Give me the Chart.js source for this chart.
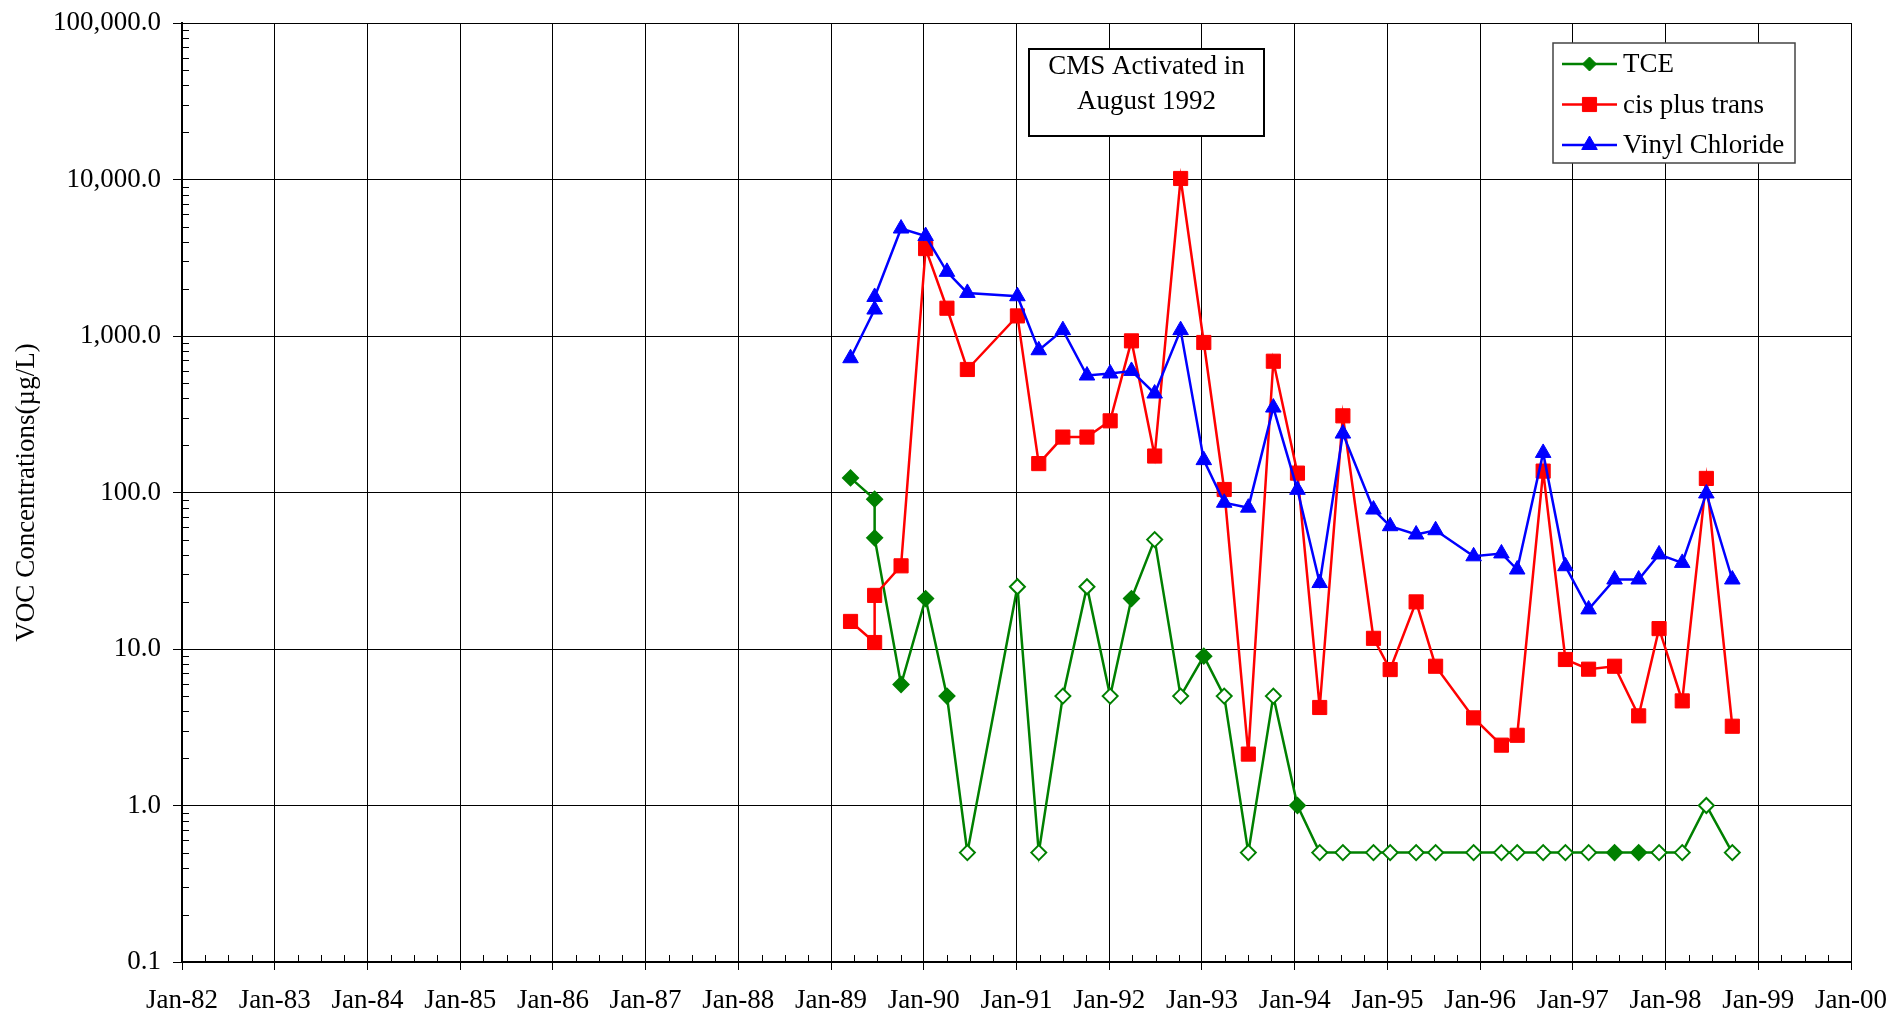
<!DOCTYPE html>
<html lang="en">
<head>
  <meta charset="UTF-8">
  <title>VOC Concentrations</title>
  <script src="https://cdn.jsdelivr.net/npm/chart.js"></script>
  <style>
    html, body { margin: 0; padding: 0; background: #fff; }
    .chart-wrap { position: relative; width: 1891px; height: 1016px; }
  </style>
</head>
<body>
  <div class="chart-wrap"><canvas id="vocChart"></canvas></div>
  <script>
    // sampling dates in decimal years (two samples taken in June 1989)
    const sampleDates = [1989.21, 1989.47, 1989.47, 1989.755, 1990.02, 1990.25, 1990.47, 1991.01, 1991.24, 1991.50,
      1991.76, 1992.01, 1992.24, 1992.49, 1992.77, 1993.02, 1993.24, 1993.50, 1993.77, 1994.03,
      1994.27, 1994.52, 1994.85, 1995.03, 1995.31, 1995.52, 1995.93, 1996.23, 1996.40, 1996.68,
      1996.92, 1997.17, 1997.45, 1997.71, 1997.93, 1998.18, 1998.44, 1998.72];

    const tce = [124, 90.6, 51.3, 5.93, 21, 5, 0.5, 25, 0.5, 5,
      25, 5, 21, 50, 5, 9, 5, 0.5, 5, 1,
      0.5, 0.5, 0.5, 0.5, 0.5, 0.5, 0.5, 0.5, 0.5, 0.5,
      0.5, 0.5, 0.5, 0.5, 0.5, 0.5, 1, 0.5];
    // false = non-detect, drawn as a hollow diamond
    const tceDetected = [true, true, true, true, true, true, false, false, false, false,
      false, false, true, false, false, true, false, false, false, true,
      false, false, false, false, false, false, false, false, false, false,
      false, false, true, true, false, false, false, false];

    const cisTrans = [15, 11, 22, 34, 3620, 1505, 611, 1344, 153, 226,
      226, 287, 931, 171, 10150, 909, 104.5, 2.13, 690, 133,
      4.23, 309, 11.7, 7.39, 20, 7.76, 3.63, 2.43, 2.81, 137,
      8.57, 7.43, 7.76, 3.74, 13.5, 4.66, 123, 3.21];

    const vinylChloride = [721, 1476, 1776, 4860, 4350, 2570, 1885, 1795, 811, 1090,
      559, 576, 598, 429, 1090, 161, 86, 80, 349, 104,
      26.4, 238, 77.8, 60.9, 53.9, 57.4, 39.1, 40.8, 32.2, 179,
      33.8, 17.9, 27.8, 27.8, 40.2, 35.5, 98.6, 27.8];

    const yTicks = [0.1, 1, 10, 100, 1000, 10000, 100000];
    const firstYear = 1982;
    const lastYear = 2000;

    const SERIF = "'Liberation Serif', 'Times New Roman', serif";
    const FONT_SIZE = 27;
    const GREEN = '#008000';
    const RED = '#ff0000';
    const BLUE = '#0000ff';

    const toPoints = (vals) => vals.map((v, i) => ({ x: sampleDates[i], y: v }));

    // minor ticks, note box and legend
    const decorations = {
      id: 'decorations',
      beforeDatasetsDraw(chart) {
        const { ctx, chartArea: ca, scales: { x, y } } = chart;
        ctx.save();
        ctx.strokeStyle = '#000';
        ctx.lineWidth = 1;
        ctx.beginPath();
        yTicks.slice(0, -1).forEach(d => {
          for (let k = 2; k <= 9; k++) {
            const py = Math.round(y.getPixelForValue(d * k)) + 0.5;
            ctx.moveTo(ca.left, py);
            ctx.lineTo(ca.left + 7, py);
          }
        });
        for (let yr = firstYear; yr < lastYear; yr++) {
          for (let q = 1; q < 4; q++) {
            const px = Math.round(x.getPixelForValue(yr + q / 4)) + 0.5;
            ctx.moveTo(px, ca.bottom);
            ctx.lineTo(px, ca.bottom - 7);
          }
        }
        ctx.stroke();

        // "CMS Activated" note
        const bx = ca.left + 847, by = ca.top + 26, bw = 235, bh = 87;
        ctx.fillStyle = '#fff';
        ctx.fillRect(bx, by, bw, bh);
        ctx.lineWidth = 2;
        ctx.strokeRect(bx, by, bw, bh);
        ctx.fillStyle = '#000';
        ctx.font = FONT_SIZE + 'px ' + SERIF;
        ctx.textAlign = 'center';
        ctx.textBaseline = 'middle';
        ctx.fillText('CMS Activated in', bx + bw / 2, by + 18);
        ctx.fillText('August 1992', bx + bw / 2, by + 53);
        ctx.restore();
      },
      afterDatasetsDraw(chart) {
        const { ctx, chartArea: ca } = chart;
        const lx = ca.right - 298, ly = ca.top + 20, lw = 242, lh = 120;
        ctx.save();
        ctx.fillStyle = '#fff';
        ctx.fillRect(lx, ly, lw, lh);
        ctx.strokeStyle = '#444';
        ctx.lineWidth = 1.5;
        ctx.strokeRect(lx, ly, lw, lh);
        ctx.font = FONT_SIZE + 'px ' + SERIF;
        ctx.textAlign = 'left';
        ctx.textBaseline = 'middle';
        chart.data.datasets.forEach((ds, i) => {
          const ry = ly + 21 + i * 40.5;
          ctx.strokeStyle = ds.borderColor;
          ctx.lineWidth = 2.5;
          ctx.beginPath();
          ctx.moveTo(lx + 9, ry);
          ctx.lineTo(lx + 64, ry);
          ctx.stroke();
          ctx.fillStyle = ds.borderColor;
          ctx.lineWidth = 1;
          Chart.helpers.drawPoint(ctx, { pointStyle: ds.pointStyle, radius: ds.legendRadius, rotation: 0, borderWidth: 1 }, lx + 36.5, ry);
          ctx.fillStyle = '#000';
          ctx.fillText(ds.label, lx + 70, ry + 1);
        });
        ctx.restore();
      }
    };

    new Chart(document.getElementById('vocChart'), {
      type: 'line',
      data: {
        datasets: [{
          label: 'TCE',
          data: toPoints(tce),
          borderColor: GREEN,
          borderWidth: 2.5,
          pointStyle: 'rectRot',
          pointRadius: 7.5,
          legendRadius: 7,
          pointBorderWidth: 2,
          pointBorderColor: GREEN,
          pointBackgroundColor: tceDetected.map(d => d ? GREEN : '#fff'),
          order: 3
        }, {
          label: 'cis plus trans',
          data: toPoints(cisTrans),
          borderColor: RED,
          backgroundColor: RED,
          borderWidth: 2.5,
          pointStyle: 'rect',
          pointRadius: 10,
          legendRadius: 10,
          pointBorderWidth: 1,
          pointBackgroundColor: RED,
          order: 2
        }, {
          label: 'Vinyl Chloride',
          data: toPoints(vinylChloride),
          borderColor: BLUE,
          backgroundColor: BLUE,
          borderWidth: 2.5,
          pointStyle: 'triangle',
          pointRadius: 9,
          legendRadius: 9,
          pointBorderWidth: 1,
          pointBackgroundColor: BLUE,
          order: 1
        }]
      },
      options: {
        responsive: true,
        maintainAspectRatio: false,
        animation: false,
        layout: { padding: { top: 23, right: 40, left: 0, bottom: 0 } },
        plugins: {
          legend: { display: false },
          tooltip: { enabled: false }
        },
        scales: {
          x: {
            type: 'linear',
            min: firstYear,
            max: lastYear,
            afterFit: (scale) => {
              scale.height = 54;
              scale.paddingLeft = 0;
              scale.paddingRight = 0;
            },
            border: { color: '#000', width: 2 },
            grid: { color: '#000', lineWidth: 1, tickLength: 8 },
            ticks: {
              stepSize: 1,
              autoSkip: false,
              maxRotation: 0,
              padding: 15,
              color: '#000',
              font: { family: SERIF, size: FONT_SIZE },
              callback: (v) => 'Jan-' + String(v).slice(2)
            }
          },
          y: {
            type: 'logarithmic',
            min: yTicks[0],
            max: yTicks[yTicks.length - 1],
            afterFit: (scale) => {
              scale.width = 182;
              scale.paddingTop = 0;
              scale.paddingBottom = 0;
            },
            afterBuildTicks: (scale) => { scale.ticks = yTicks.map(v => ({ value: v })); },
            border: { color: '#000', width: 2 },
            grid: { color: '#000', lineWidth: 1, tickLength: 9 },
            title: {
              display: true,
              text: 'VOC Concentrations(µg/L)',
              color: '#000',
              font: { family: SERIF, size: FONT_SIZE },
              padding: { top: 11, bottom: 0 }
            },
            ticks: {
              padding: 12,
              color: '#000',
              font: { family: SERIF, size: FONT_SIZE },
              callback: (v) => Number(v).toLocaleString('en-US', { minimumFractionDigits: 1, maximumFractionDigits: 1 })
            }
          }
        }
      },
      plugins: [decorations]
    });
  </script>
</body>
</html>
